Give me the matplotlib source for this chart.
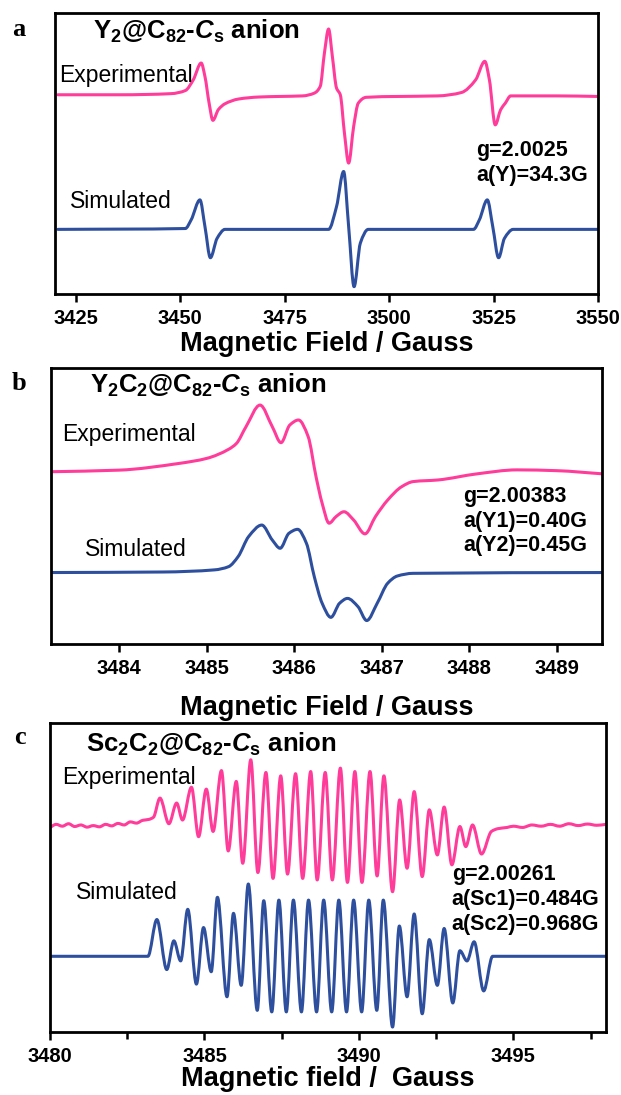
import matplotlib
matplotlib.use("Agg")
import numpy as np
import matplotlib.pyplot as plt
from matplotlib.ticker import MultipleLocator
from matplotlib.path import Path
from matplotlib.patches import PathPatch

plt.rcParams['font.family'] = ['Liberation Sans', 'DejaVu Sans']
plt.rcParams['mathtext.fontset'] = 'custom'
plt.rcParams['mathtext.rm'] = 'Liberation Sans:bold'
plt.rcParams['mathtext.it'] = 'Liberation Sans:italic:bold'
plt.rcParams['mathtext.bf'] = 'Liberation Sans:bold'

PINK = '#ff3c9a'
BLUE = '#2d4f9e'

# ---------------- Panel a : Y2@C82-Cs anion ----------------
a_exp_field = [3420.7, 3435.5, 3447.8, 3451.2, 3453.1, 3455.0, 3455.9, 3456.9, 3457.8,
               3459.1, 3460.7, 3464.0, 3468.8, 3473.6, 3479.3, 3482.1, 3483.5, 3484.5,
               3485.5, 3486.4, 3487.4, 3488.3, 3489.3, 3490.3, 3491.5, 3492.6, 3494.5,
               3502.1, 3511.6, 3517.3, 3520.7, 3522.9, 3524.0, 3525.4, 3526.7, 3527.8,
               3529.1, 3540.2, 3550.0]
a_exp_signal = [7.09, 7.09, 7.13, 7.24, 7.62, 8.22, 7.74, 6.79, 6.18,
                6.56, 6.77, 6.94, 7.01, 7.03, 7.05, 7.15, 7.39, 8.57,
                9.43, 8.46, 7.33, 7.09, 5.72, 4.66, 5.96, 6.79, 7.00,
                7.03, 7.05, 7.17, 7.62, 8.28, 7.62, 6.02, 6.56, 6.79,
                7.05, 7.05, 7.03]
a_sim_field = [3420.7, 3451.2, 3452.6, 3454.7, 3455.9, 3457.2, 3458.8, 3460.7,
               3485.5, 3487.4, 3489.1, 3490.3, 3491.6, 3493.1, 3495.0,
               3520.2, 3521.6, 3523.5, 3524.8, 3526.2, 3527.6, 3529.7, 3550.0]
a_sim_signal = [2.30, 2.33, 2.64, 3.35, 2.40, 1.29, 1.98, 2.30,
                2.30, 3.11, 4.36, 2.40, 0.26, 1.81, 2.30,
                2.30, 2.64, 3.35, 2.40, 1.29, 1.98, 2.30, 2.30]
a_ticks = [3425, 3450, 3475, 3500, 3525, 3550]
a_notes = ['g=2.0025', 'a(Y)=34.3G']

# ---------------- Panel b : Y2C2@C82-Cs anion ----------------
b_exp_field = [3483.22, 3484.00, 3484.68, 3485.00, 3485.25, 3485.34, 3485.45, 3485.61,
               3485.75, 3485.85, 3485.95, 3486.05, 3486.16, 3486.25, 3486.32, 3486.40,
               3486.48, 3486.57, 3486.68, 3486.81, 3486.93, 3487.07, 3487.23, 3487.36,
               3487.64, 3488.09, 3488.55, 3489.00, 3489.53]
b_exp_signal = [6.46, 6.52, 6.77, 6.96, 7.30, 7.52, 8.15, 8.96,
                8.15, 7.55, 8.21, 8.40, 7.78, 6.28, 5.28, 4.53,
                4.78, 4.96, 4.65, 4.13, 4.78, 5.40, 5.90, 6.09,
                6.15, 6.38, 6.53, 6.50, 6.38]
b_sim_field = [3483.22, 3484.50, 3485.09, 3485.25, 3485.36, 3485.48, 3485.63, 3485.75,
               3485.84, 3485.94, 3486.04, 3486.14, 3486.23, 3486.32, 3486.42, 3486.52,
               3486.61, 3486.73, 3486.83, 3486.95, 3487.07, 3487.18, 3487.36, 3489.53]
b_sim_signal = [2.68, 2.70, 2.78, 2.90, 3.28, 4.03, 4.46, 3.90,
                3.59, 4.15, 4.30, 3.78, 2.53, 1.53, 1.00, 1.53,
                1.71, 1.40, 0.88, 1.53, 2.28, 2.55, 2.65, 2.68]
b_ticks = [3484, 3485, 3486, 3487, 3488, 3489]
b_notes = ['g=2.00383', 'a(Y1)=0.40G', 'a(Y2)=0.45G']

# ---------------- Panel c : Sc2C2@C82-Cs anion ----------------
c_exp_field = [3480.0, 3480.2, 3480.4, 3480.6, 3480.8, 3481.0, 3481.2, 3481.4, 3481.6,
               3481.8, 3482.0, 3482.2, 3482.4, 3482.6, 3482.8, 3483.0, 3483.2, 3483.35,
               3483.56, 3483.85, 3484.10, 3484.29, 3484.58, 3484.81, 3485.06, 3485.28,
               3485.55, 3485.77, 3486.03, 3486.24, 3486.50, 3486.73, 3486.99, 3487.22,
               3487.47, 3487.69, 3487.95, 3488.18, 3488.44, 3488.65, 3488.91, 3489.14,
               3489.40, 3489.63, 3489.87, 3490.10, 3490.36, 3490.59, 3490.81, 3491.09,
               3491.32, 3491.56, 3491.79, 3492.05, 3492.28, 3492.54, 3492.76, 3493.01,
               3493.27, 3493.46, 3493.68, 3493.97, 3494.29, 3494.5, 3494.8, 3495.0,
               3495.3, 3495.6, 3495.9, 3496.2, 3496.5, 3496.8, 3497.1, 3497.4, 3497.7, 3498.0]
c_exp_signal = [6.62, 6.72, 6.66, 6.74, 6.65, 6.70, 6.63, 6.68, 6.64,
                6.72, 6.67, 6.75, 6.70, 6.80, 6.76, 6.85, 6.88, 6.95,
                7.57, 6.74, 7.41, 6.86, 7.92, 6.32, 7.86, 6.49,
                8.46, 5.86, 8.11, 5.46, 8.81, 5.16, 8.40, 4.97,
                8.29, 5.11, 8.36, 4.97, 8.43, 4.92, 8.40, 4.92,
                8.54, 4.84, 8.43, 4.84, 8.43, 5.05, 8.29, 4.54,
                7.51, 5.30, 7.78, 5.03, 7.19, 5.73, 7.28, 5.41,
                6.65, 6.00, 6.70, 5.76, 6.49, 6.58, 6.62, 6.66,
                6.62, 6.70, 6.66, 6.72, 6.66, 6.74, 6.68, 6.73, 6.69, 6.72]
c_sim_field = [3480.0, 3483.17, 3483.46, 3483.78, 3484.01, 3484.23, 3484.46, 3484.74,
               3484.97, 3485.22, 3485.42, 3485.73, 3485.94, 3486.19, 3486.42, 3486.71,
               3486.92, 3487.18, 3487.41, 3487.65, 3487.88, 3488.14, 3488.37, 3488.63,
               3488.86, 3489.12, 3489.35, 3489.60, 3489.83, 3490.09, 3490.32, 3490.58,
               3490.79, 3491.09, 3491.31, 3491.56, 3491.79, 3492.05, 3492.28, 3492.54,
               3492.76, 3493.04, 3493.27, 3493.50, 3493.73, 3494.04, 3494.33, 3498.0]
c_sim_signal = [2.45, 2.45, 3.64, 2.02, 2.95, 2.30, 3.97, 1.55,
                3.38, 1.95, 4.36, 1.14, 3.84, 1.51, 4.79, 0.70,
                4.25, 0.65, 4.27, 0.65, 4.27, 0.65, 4.27, 0.65,
                4.27, 0.65, 4.27, 0.65, 4.27, 0.65, 4.27, 0.70,
                4.27, 0.16, 3.43, 1.14, 3.82, 0.59, 2.99, 1.51,
                3.35, 0.94, 2.63, 2.30, 2.92, 1.33, 2.45, 2.45]
c_ticks = [3480, 3485, 3490, 3495]
c_notes = ['g=2.00261', 'a(Sc1)=0.484G', 'a(Sc2)=0.968G']

W, H = 621, 1095
fig = plt.figure(figsize=(W / 100, H / 100), dpi=100)

TICK_FS = 14.5
XLAB_FS = 19.5
TITLE_FS = 18.5
TAG_FS = 16.5
NOTE_FS = 15.5
LW = 2.2


def px_axes(left, top, right, bottom):
    return fig.add_axes([left / W, 1 - bottom / H, (right - left) / W, (bottom - top) / H])


def smooth_trace(ax, x, y, color):
    """Draw the read points joined by shape-preserving cubic Bezier segments."""
    x = np.asarray(x, float)
    y = np.asarray(y, float)
    h = np.diff(x)
    d = np.diff(y) / h
    m = np.zeros_like(x)
    m[0], m[-1] = d[0], d[-1]
    for k in range(1, len(x) - 1):
        if d[k - 1] * d[k] > 0:
            w1 = 2 * h[k] + h[k - 1]
            w2 = h[k] + 2 * h[k - 1]
            m[k] = (w1 + w2) / (w1 / d[k - 1] + w2 / d[k])
    verts = [(x[0], y[0])]
    codes = [Path.MOVETO]
    for k in range(len(x) - 1):
        verts += [(x[k] + h[k] / 3, y[k] + m[k] * h[k] / 3),
                  (x[k + 1] - h[k] / 3, y[k + 1] - m[k + 1] * h[k] / 3),
                  (x[k + 1], y[k + 1])]
        codes += [Path.CURVE4] * 3
    ax.add_patch(PathPatch(Path(verts, codes), fill=False, edgecolor=color, lw=LW,
                           joinstyle='round', capstyle='round'))


def style(ax, xlim, ylim, ticks, xlabel, labelpad, minor=None):
    ax.set_xlim(*xlim)
    ax.set_ylim(*ylim)
    ax.set_yticks([])
    ax.set_xticks(ticks)
    if minor:
        ax.xaxis.set_minor_locator(MultipleLocator(minor))
        ax.tick_params(axis='x', which='minor', direction='out', length=5, width=1.8)
    ax.tick_params(axis='x', which='major', direction='out', length=6, width=1.8,
                   labelsize=TICK_FS, pad=5)
    for lab in ax.get_xticklabels():
        lab.set_fontweight('bold')
    for s in ax.spines.values():
        s.set_linewidth(2.0)
    ax.set_xlabel(xlabel, fontsize=XLAB_FS, fontweight='bold', labelpad=labelpad)


# panel a
axa = px_axes(55, 13, 598, 294)
smooth_trace(axa, a_exp_field, a_exp_signal, PINK)
smooth_trace(axa, a_sim_field, a_sim_signal, BLUE)
style(axa, (3420, 3550), (0, 10), a_ticks, 'Magnetic Field / Gauss', 2)
axa.text(3429, 9.35, r'Y$_2$@C$_{82}$-$C_\mathrm{s}$ anion', fontsize=TITLE_FS, fontweight='bold', va='center')
axa.text(3421, 7.77, 'Experimental', fontsize=TAG_FS, va='center')
axa.text(3423.6, 3.29, 'Simulated', fontsize=TAG_FS, va='center')
for i, t in enumerate(a_notes):
    axa.text(3520.9, 5.11 - i * 0.91, t, fontsize=NOTE_FS, fontweight='bold', va='center')
fig.text(12 / W, 1 - 29 / H, 'a', family='Liberation Serif', fontweight='bold', fontsize=19, va='center')

# panel b
axb = px_axes(51, 368, 602, 644)
smooth_trace(axb, b_exp_field, b_exp_signal, PINK)
smooth_trace(axb, b_sim_field, b_sim_signal, BLUE)
style(axb, (3483.22, 3489.52), (0, 10.35), b_ticks, 'Magnetic Field / Gauss', 12)
axb.text(3483.67, 9.68, r'Y$_2$C$_2$@C$_{82}$-$C_\mathrm{s}$ anion', fontsize=TITLE_FS, fontweight='bold', va='center')
axb.text(3483.35, 7.84, 'Experimental', fontsize=TAG_FS, va='center')
axb.text(3483.61, 3.53, 'Simulated', fontsize=TAG_FS, va='center')
for i, t in enumerate(b_notes):
    axb.text(3487.93, 5.53 - i * 0.92, t, fontsize=NOTE_FS, fontweight='bold', va='center')
fig.text(12 / W, 1 - 383 / H, 'b', family='Liberation Serif', fontweight='bold', fontsize=19, va='center')

# panel c
axc = px_axes(50, 723, 606, 1032)
smooth_trace(axc, c_exp_field, c_exp_signal, PINK)
smooth_trace(axc, c_sim_field, c_sim_signal, BLUE)
style(axc, (3480, 3498), (0, 10), c_ticks, 'Magnetic field /  Gauss', 0, minor=2.5)
axc.text(3481.15, 9.30, r'Sc$_2$C$_2$@C$_{82}$-$C_\mathrm{s}$ anion', fontsize=TITLE_FS, fontweight='bold', va='center')
axc.text(3480.38, 8.24, 'Experimental', fontsize=TAG_FS, va='center')
axc.text(3480.83, 4.51, 'Simulated', fontsize=TAG_FS, va='center')
for i, t in enumerate(c_notes):
    axc.text(3493.01, 5.11 - i * 0.81, t, fontsize=NOTE_FS, fontweight='bold', va='center')
fig.text(14 / W, 1 - 738 / H, 'c', family='Liberation Serif', fontweight='bold', fontsize=19, va='center')

fig.savefig('out.png', dpi=100)
